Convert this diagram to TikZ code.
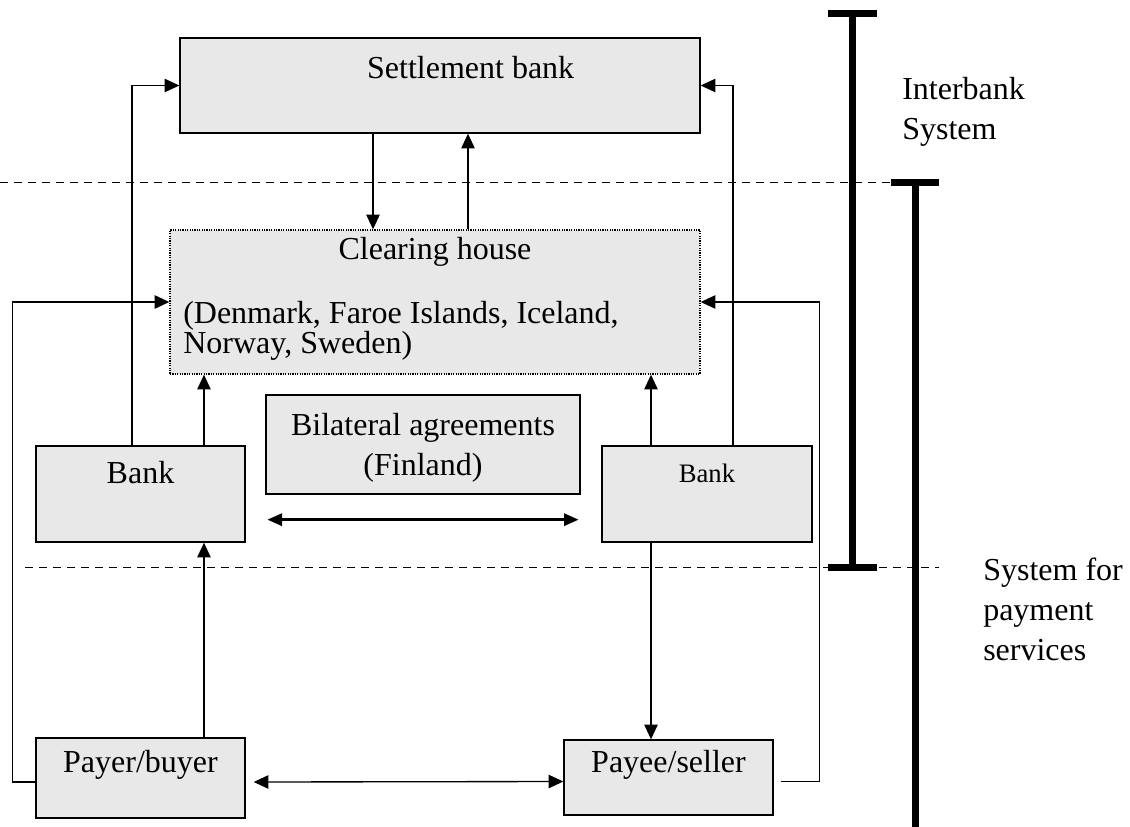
\documentclass[tikz,border=0pt]{standalone}
\usepackage{fontspec}
\setmainfont{Liberation Serif}
\usetikzlibrary{arrows.meta,positioning}
\definecolor{box-gray}{RGB}{232,232,232}
\tikzset{
    grey-box/.style = {draw=black, fill=box-gray, line width=1pt, rectangle, inner sep=0pt},
    dotted-box/.style = {grey-box, dash pattern=on 0.9pt off 0.9pt},
    box-text/.style = {font=\fontsize{24}{30}\selectfont, inner sep=0pt},
    flow-line/.style = {draw, line width=1pt, -{Triangle[length=11pt,width=10pt]}},
    both-flow/.style = {draw, line width=1pt, {Triangle[length=11pt,width=10pt]}-{Triangle[length=11pt,width=10pt]}},
    thick-flow/.style = {draw, line width=2.2pt, {Triangle[length=11pt,width=9pt]}-{Triangle[length=11pt,width=9pt]}},
    level-line/.style = {draw, line width=0.75pt, dash pattern=on 6pt off 4.5pt},
    bar-line/.style = {draw, line width=5.25pt},
}

\begin{document}
\begin{tikzpicture}[x=0.75pt, y=-0.75pt]
\clip (0,0) rectangle (1130,827);

% levels
\draw[level-line] (0,183) -- (891,183);
\draw[level-line] (25,567) -- (939,567);

% boxes
\node[grey-box, minimum width=390pt, minimum height=71.25pt] (settle) at (440,85.5) {};
\node[dotted-box, minimum width=397.5pt, minimum height=108pt] (clear) at (435,302) {};
\node[grey-box, minimum width=235.5pt, minimum height=74.25pt] (bilat) at (423,444.5) {};
\node[grey-box, minimum width=156.75pt, minimum height=72pt] (lbank) at (140.5,494) {};
\node[grey-box, minimum width=157.5pt, minimum height=72pt] (rbank) at (707,494) {};
\node[grey-box, minimum width=156.75pt, minimum height=60pt] (payer) at (140.5,778) {};
\node[grey-box, minimum width=156.75pt, minimum height=56.25pt] (payee) at (668.5,777.5) {};

% texts
\node[box-text, anchor=base, xshift=23pt] (settle-text) at ([yshift=-30.75pt]settle.north) {Settlement bank};
\node[box-text, anchor=base] (clear-text) at ([yshift=-22.5pt]clear.north) {Clearing house};
\node[box-text, anchor=north west, align=left, font=\fontsize{24}{20}\selectfont] (clear-countries) at (183,301) {(Denmark, Faroe Islands, Iceland,\\Norway, Sweden)};
\node[box-text, anchor=north, align=center] (bilat-text) at ([yshift=-14.25pt]bilat.north) {Bilateral agreements\\(Finland)};
\node[box-text, anchor=base] (lbank-text) at ([yshift=-28.5pt]lbank.north) {Bank};
\node[box-text, anchor=base, font=\fontsize{20}{24}\selectfont] (rbank-text) at ([yshift=-27.75pt]rbank.north) {Bank};
\node[box-text, anchor=base] (payer-text) at ([yshift=-26.25pt]payer.north) {Payer/buyer};
\node[box-text, anchor=base] (payee-text) at ([yshift=-24.75pt]payee.north) {Payee/seller};

% connectors
\coordinate (lb-left) at ([xshift=-6.4pt]lbank.north);
\coordinate (lb-right) at ([xshift=47.6pt]lbank.north);
\coordinate (st-down) at ([xshift=-50.25pt]settle.south);
\coordinate (st-up) at ([xshift=21pt]settle.south);
\coordinate (rb-left) at ([xshift=-42pt]rbank.north);
\coordinate (rb-down) at ([xshift=-42pt]rbank.south);
\coordinate (rb-right) at ([xshift=19.5pt]rbank.north);
\coordinate (py-out) at ([yshift=-3pt]payer.west);
\coordinate (py-mid) at ([xshift=6pt,yshift=-3pt]payer.east);
\coordinate (pe-mid) at ([yshift=-3pt]payee.west);
\coordinate (pe-out) at ([xshift=5.25pt,yshift=-3pt]payee.east);

\draw[flow-line] (lb-left) |- (settle.west);
\draw[flow-line] (lb-right) -- (lb-right |- clear.south);
\draw[flow-line] (lb-right |- payer.north) -- (lb-right |- lbank.south);
\draw[flow-line] (py-out) -- ++(-17.25pt,0) |- (clear.west);
\draw[flow-line] (st-down) -- (st-down |- clear.north);
\draw[flow-line] (st-up |- clear.north) -- (st-up);
\draw[flow-line] (rb-left) -- (rb-left |- clear.south);
\draw[flow-line] (rb-right) |- (settle.east);
\draw[flow-line] (rb-down) -- (rb-down |- payee.north);
\draw[flow-line] (pe-out) -- ++(29.25pt,0) |- (clear.east);
\draw[both-flow] (py-mid) -- (pe-mid);

\coordinate (bil-l) at ([xshift=1.5pt,yshift=-18.75pt]bilat.south west);
\coordinate (bil-r) at ([xshift=-1.5pt,yshift=-18.75pt]bilat.south east);
\draw[thick-flow] (bil-l) -- (bil-r);

% system bars
\draw[bar-line] (852,14) -- (852,567);
\draw[bar-line] (828,14) -- (877,14);
\draw[bar-line] (828,567) -- (877,567);
\draw[bar-line] (915,183) -- (915,830);
\draw[bar-line] (891,183) -- (939,183);
\draw[bar-line] (891,830) -- (939,830);

\node[box-text, anchor=north west, align=left] (interbank) at (902,77) {Interbank\\System};
\node[box-text, anchor=north west, align=left] (payment) at (983,558) {System for\\payment\\services};
\end{tikzpicture}
\end{document}
